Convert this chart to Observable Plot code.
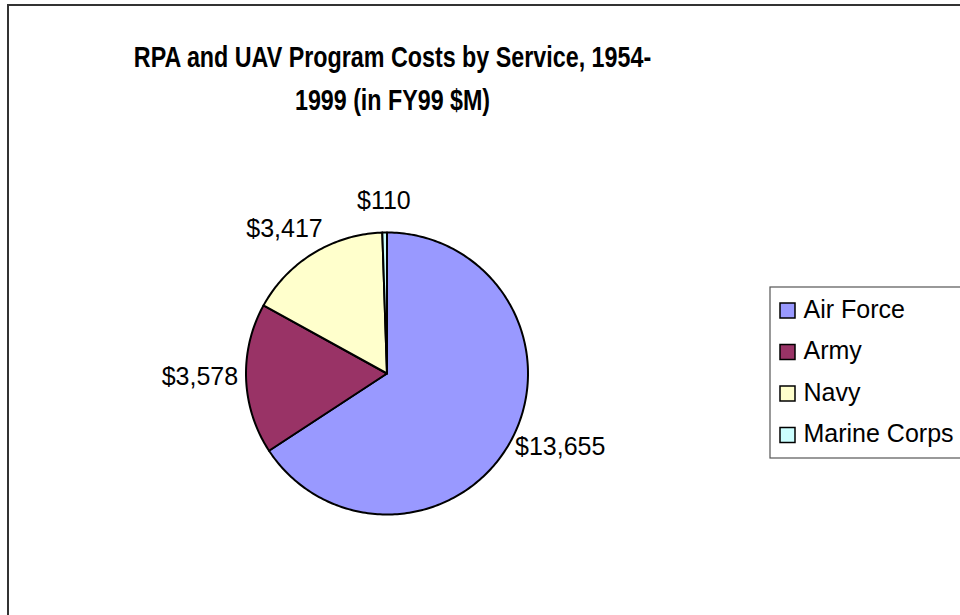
<!DOCTYPE html>
<html>
<head>
<meta charset="utf-8">
<script src="https://cdn.jsdelivr.net/npm/d3@7"></script>
<script src="https://cdn.jsdelivr.net/npm/@observablehq/plot@0.6"></script>
<style>
  html, body { margin: 0; padding: 0; background: #fff; overflow: hidden; }
  #frame { position: absolute; left: 7px; top: 4px; width: 1100px; height: 800px; border: 2px solid #333; box-sizing: border-box; }
  #chart { position: absolute; left: 0; top: 0; }
</style>
</head>
<body>
<div id="frame"></div>
<div id="chart"></div>
<script>
// ---- data ----
const titleLines = ["RPA and UAV Program Costs by Service, 1954-", "1999 (in FY99 $M)"];
const services = ["Air Force", "Army", "Navy", "Marine Corps"];
const costs = [13655, 3578, 3417, 110];
const colors = ["#9999FF", "#993366", "#FFFFCC", "#CCFFFF"];

// ---- layout ----
const W = 960, H = 615;
const FONT = "'Liberation Sans', Arial, sans-serif";
const pie = {cx: 386.5, cy: 373, r: 141};
const titleLayout = {x: 392, y0: 57, dy: 43, size: 30, condense: 0.775};
const legend = {x1: 770, x2: 990, y1: 287, y2: 458, sx: 780, sw: 15, tx: 803, y0: 310.5, dy: 41.5};
const LABEL_SIZE = 25;

const fmt = d3.format("$,");
const arcs = d3.pie().sort(null)(costs);

// wedge outlines from the pie angles
const wedges = arcs.flatMap((a, i) => {
  const n = Math.max(2, Math.ceil((a.endAngle - a.startAngle) / (Math.PI / 180)));
  const pts = [{service: services[i], x: pie.cx, y: pie.cy}];
  for (let k = 0; k <= n; k++) {
    const ang = a.startAngle + (a.endAngle - a.startAngle) * k / n;
    pts.push({service: services[i], x: pie.cx + pie.r * Math.sin(ang), y: pie.cy - pie.r * Math.cos(ang)});
  }
  return pts;
});

// label placement (outside end, like Excel)
const ctx = document.createElement("canvas").getContext("2d");
ctx.font = LABEL_SIZE + "px " + FONT;
const labels = arcs.map((a, i) => {
  const mid = (a.startAngle + a.endAngle) / 2;
  const dx = Math.sin(mid), dy = -Math.cos(mid);
  const text = fmt(costs[i]);
  const w = ctx.measureText(text).width, h = 17;
  const g = 8 + 12 * dy * dy;
  return {
    text,
    x: pie.cx + dx * (pie.r + g) + dx * w / 2,
    y: pie.cy + dy * (pie.r + g) + dy * h / 2 - 3
  };
});

const titles = titleLines.map((t, i) => ({text: t, x: titleLayout.x, y: titleLayout.y0 + i * titleLayout.dy}));
const legendRows = services.map((s, i) => ({service: s, y: legend.y0 + i * legend.dy}));

const chart = Plot.plot({
  width: W, height: H,
  margin: 0,
  style: {fontFamily: FONT, background: "transparent"},
  x: {type: "linear", domain: [0, W], range: [0, W], axis: null},
  y: {type: "linear", domain: [0, H], range: [0, H], axis: null},
  color: {domain: services, range: colors},
  marks: [
    Plot.line(wedges, {x: "x", y: "y", z: "service", fill: "service", stroke: "black", strokeWidth: 2, curve: "linear-closed", strokeLinejoin: "round"}),
    Plot.text(labels, {x: "x", y: "y", text: "text", fontSize: LABEL_SIZE, fill: "black", textAnchor: "middle", lineAnchor: "middle"}),
    Plot.text(titles, {x: "x", y: "y", text: "text", fontSize: titleLayout.size, fontWeight: "bold", fill: "black", textAnchor: "middle", lineAnchor: "middle"}),
    Plot.rect([legend], {x1: "x1", x2: "x2", y1: "y1", y2: "y2", fill: "white", stroke: "#555", strokeWidth: 1.2}),
    Plot.rect(legendRows, {x1: () => legend.sx, x2: () => legend.sx + legend.sw, y1: d => d.y - legend.sw / 2, y2: d => d.y + legend.sw / 2, fill: "service", stroke: "black", strokeWidth: 1.5}),
    Plot.text(legendRows, {x: () => legend.tx, y: d => d.y - 1.5, text: "service", fontSize: LABEL_SIZE, fill: "black", textAnchor: "start", lineAnchor: "middle"})
  ]
});

document.getElementById("chart").appendChild(chart);

// condense the title like the original
const tctx = document.createElement("canvas").getContext("2d");
tctx.font = "bold " + titleLayout.size + "px " + FONT;
chart.querySelectorAll("text").forEach(el => {
  if (titleLines.includes(el.textContent)) {
    const w = tctx.measureText(el.textContent).width * titleLayout.condense;
    el.setAttribute("textLength", w.toFixed(1));
    el.setAttribute("lengthAdjust", "spacingAndGlyphs");
  }
});
</script>
</body>
</html>
